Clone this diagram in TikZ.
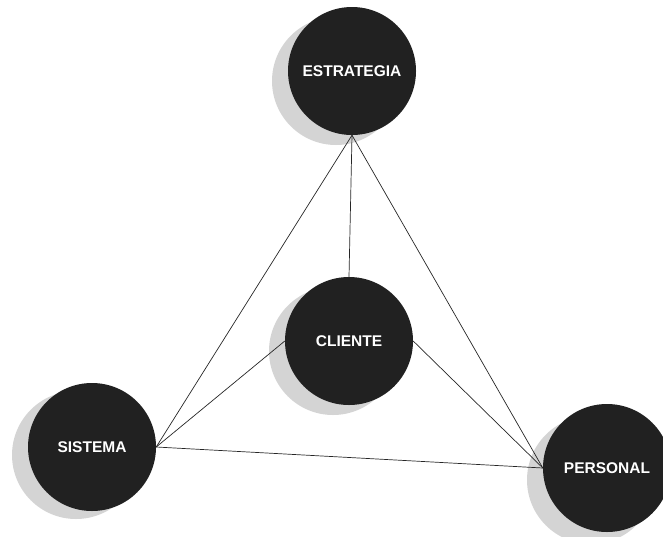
\documentclass[tikz,border=0pt]{standalone}
\usepackage{fontspec}
\setmainfont{Liberation Sans}
\usepackage{tikz}

\begin{document}
\begin{tikzpicture}[
        x=1pt, y=-1pt,
        topic_block/.style={circle, minimum size=128pt, inner sep=0pt, fill=black!87, text=white, font=\fontsize{15.5}{17}\selectfont\bfseries},
        shadow_block/.style={circle, minimum size=128pt, inner sep=0pt, fill=black!17},
        link/.style={draw=black!85, line width=0.7pt}
    ]
        \useasboundingbox (0,0) rectangle (663,536);

        % Shadows
        \node (est_shadow) at (336, 81) [shadow_block] {};
        \node (cli_shadow) at (333, 351) [shadow_block] {};
        \node (sis_shadow) at (76, 455) [shadow_block] {};
        \node (per_shadow) at (591, 480) [shadow_block] {};

        % Topics
        \node (est) at (352, 71) [topic_block] {ESTRATEGIA};
        \node (cli) at (349, 341) [topic_block] {CLIENTE};
        \node (sis) at (92, 447) [topic_block] {SISTEMA};
        \node (per) at (607, 468) [topic_block] {PERSONAL};

        % Connections
        \draw [link] (est.south) -- (sis.east);
        \draw [link] (est.south) -- (per.west);
        \draw [link] (est.south) -- (cli.north);
        \draw [link] (cli.west) -- (sis.east);
        \draw [link] (cli.east) -- (per.west);
        \draw [link] (sis.east) -- (per.west);

    \end{tikzpicture}
\end{document}
